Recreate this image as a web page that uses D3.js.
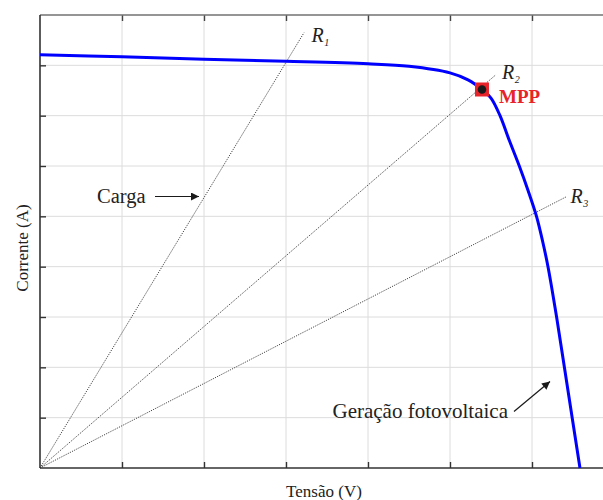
<!DOCTYPE html>
<html>
<head>
<meta charset="utf-8">
<script src="https://cdn.jsdelivr.net/npm/d3@7"></script>
<style>
  html, body { margin: 0; padding: 0; background: #fff; }
  svg { display: block; }
  text { font-family: "Liberation Serif", "DejaVu Serif", serif; fill: #222; }
</style>
</head>
<body>
<svg id="chart" width="603" height="500"></svg>
<script>
// ---- data (axis units: x = voltage divisions, y = current divisions) ----
const voltage = [0, 1, 2, 3, 4, 4.5, 5.0, 5.22, 5.39, 5.5, 5.61, 5.725, 5.845, 5.955, 6.055, 6.13, 6.195, 6.30, 6.395, 6.49, 6.585];
const current = [8.21, 8.17, 8.12, 8.08, 8.03, 7.98, 7.85, 7.71, 7.52, 7.35, 7.0, 6.5, 6.0, 5.5, 5.0, 4.5, 4.0, 3.0, 2.0, 1.0, 0];
const loadNames = ["1", "2", "3"];
const loadEndV = [3.22, 5.55, 6.42];
const loadEndI = [8.65, 7.80, 5.39];
const mppV = 5.39;
const mppI = 7.52;
const xTicks = [0, 1, 2, 3, 4, 5, 6, 7];
const yTicks = [0, 1, 2, 3, 4, 5, 6, 7, 8, 9];
const xLabel = "Tensão (V)";
const yLabel = "Corrente (A)";
const loadText = "Carga";
const pvText = "Geração fotovoltaica";
const mppText = "MPP";

// ---- layout ----
const svg = d3.select("#chart");
const x = d3.scaleLinear().domain([0, 7]).range([40, 614]);
const y = d3.scaleLinear().domain([0, 9]).range([468, 15]);

// grid
const grid = svg.append("g").attr("stroke", "#dcdcdc").attr("stroke-width", 1);
grid.selectAll("line.v").data(xTicks.slice(1)).join("line")
  .attr("x1", d => x(d)).attr("x2", d => x(d))
  .attr("y1", y(0)).attr("y2", y(9));
grid.selectAll("line.h").data(yTicks.slice(1)).join("line")
  .attr("x1", x(0)).attr("x2", x(7))
  .attr("y1", d => y(d)).attr("y2", d => y(d));

// axes (inward ticks, no labels)
const tk = 6;
function styleAxis(g, col) {
  g.select(".domain").remove();
  g.selectAll("line").attr("stroke", col).attr("stroke-width", 1.4);
}
svg.append("g").attr("transform", `translate(0,${y(0)})`)
  .call(d3.axisTop(x).tickValues(xTicks.slice(1)).tickSize(tk).tickFormat(""))
  .call(g => styleAxis(g, "#333"));
svg.append("g").attr("transform", `translate(0,${y(9)})`)
  .call(d3.axisBottom(x).tickValues(xTicks.slice(1)).tickSize(tk).tickFormat(""))
  .call(g => styleAxis(g, "#444"));
svg.append("g").attr("transform", `translate(${x(0)},0)`)
  .call(d3.axisRight(y).tickValues(yTicks.slice(1, -1)).tickSize(tk).tickFormat(""))
  .call(g => styleAxis(g, "#333"));
// frame lines
svg.append("line").attr("x1", x(0)).attr("x2", x(7)).attr("y1", y(9)).attr("y2", y(9))
  .attr("stroke", "#777").attr("stroke-width", 1.6);
svg.append("line").attr("x1", x(0)).attr("x2", x(7)).attr("y1", y(0)).attr("y2", y(0))
  .attr("stroke", "#333").attr("stroke-width", 1.6);
svg.append("line").attr("x1", x(0)).attr("x2", x(0)).attr("y1", y(0)).attr("y2", y(9))
  .attr("stroke", "#333").attr("stroke-width", 1.6);

// load lines
svg.append("g").selectAll("line").data(loadNames).join("line")
  .attr("x1", x(0)).attr("y1", y(0))
  .attr("x2", (d, i) => x(loadEndV[i])).attr("y2", (d, i) => y(loadEndI[i]))
  .attr("stroke", "#333").attr("stroke-width", 0.9).attr("stroke-dasharray", "1.2,1.2");

// PV curve
const line = d3.line().x((d, i) => x(voltage[i])).y((d, i) => y(current[i])).curve(d3.curveCatmullRom.alpha(0.5));
svg.append("path").datum(voltage).attr("d", line)
  .attr("fill", "none").attr("stroke", "#0000ff").attr("stroke-width", 3);

// MPP marker
svg.append("rect")
  .attr("x", x(mppV) - 7).attr("y", y(mppI) - 7).attr("width", 14).attr("height", 14)
  .attr("fill", "#e8242b");
svg.append("circle").attr("cx", x(mppV)).attr("cy", y(mppI)).attr("r", 4.3).attr("fill", "#1a1a1a");
svg.append("text").attr("x", x(mppV) + 17).attr("y", y(mppI) + 14)
  .attr("font-size", 19).attr("font-weight", "bold").style("fill", "#e8242b").text(mppText);

// load line labels (offsets from each line's end)
const labDx = [7.5, 7, 4];
const labDy = [9, 4, 6];
const rl = svg.append("g").selectAll("text").data(loadNames).join("text")
  .attr("x", (d, i) => x(loadEndV[i]) + labDx[i])
  .attr("y", (d, i) => y(loadEndI[i]) + labDy[i])
  .attr("font-size", 20).attr("font-style", "italic");
rl.append("tspan").text("R");
rl.append("tspan").attr("font-size", 10).attr("dy", 4).attr("dx", 0.5).text(d => d);

// arrows
const defs = svg.append("defs");
defs.append("marker").attr("id", "ah").attr("viewBox", "0 0 10 10")
  .attr("refX", 10).attr("refY", 5).attr("markerWidth", 10).attr("markerHeight", 8)
  .attr("markerUnits", "userSpaceOnUse").attr("orient", "auto")
  .append("path").attr("d", "M0,0L10,5L0,10Z").attr("fill", "#1a1a1a");

svg.append("text").attr("x", 97).attr("y", 202.5).attr("font-size", 20.5).text(loadText);
svg.append("line").attr("x1", 155).attr("y1", 196.5).attr("x2", 199).attr("y2", 196.5)
  .attr("stroke", "#1a1a1a").attr("stroke-width", 1.2).attr("marker-end", "url(#ah)");

svg.append("text").attr("x", 332.5).attr("y", 418).attr("font-size", 21).text(pvText);
svg.append("line").attr("x1", 514).attr("y1", 411.5).attr("x2", 550).attr("y2", 381.5)
  .attr("stroke", "#1a1a1a").attr("stroke-width", 1.2).attr("marker-end", "url(#ah)");

// axis titles
svg.append("text").attr("x", 324).attr("y", 497).attr("text-anchor", "middle")
  .attr("font-size", 17).text(xLabel);
svg.append("text").attr("transform", `translate(27.5,${248}) rotate(-90)`)
  .attr("text-anchor", "middle").attr("font-size", 17).text(yLabel);
</script>
</body>
</html>
